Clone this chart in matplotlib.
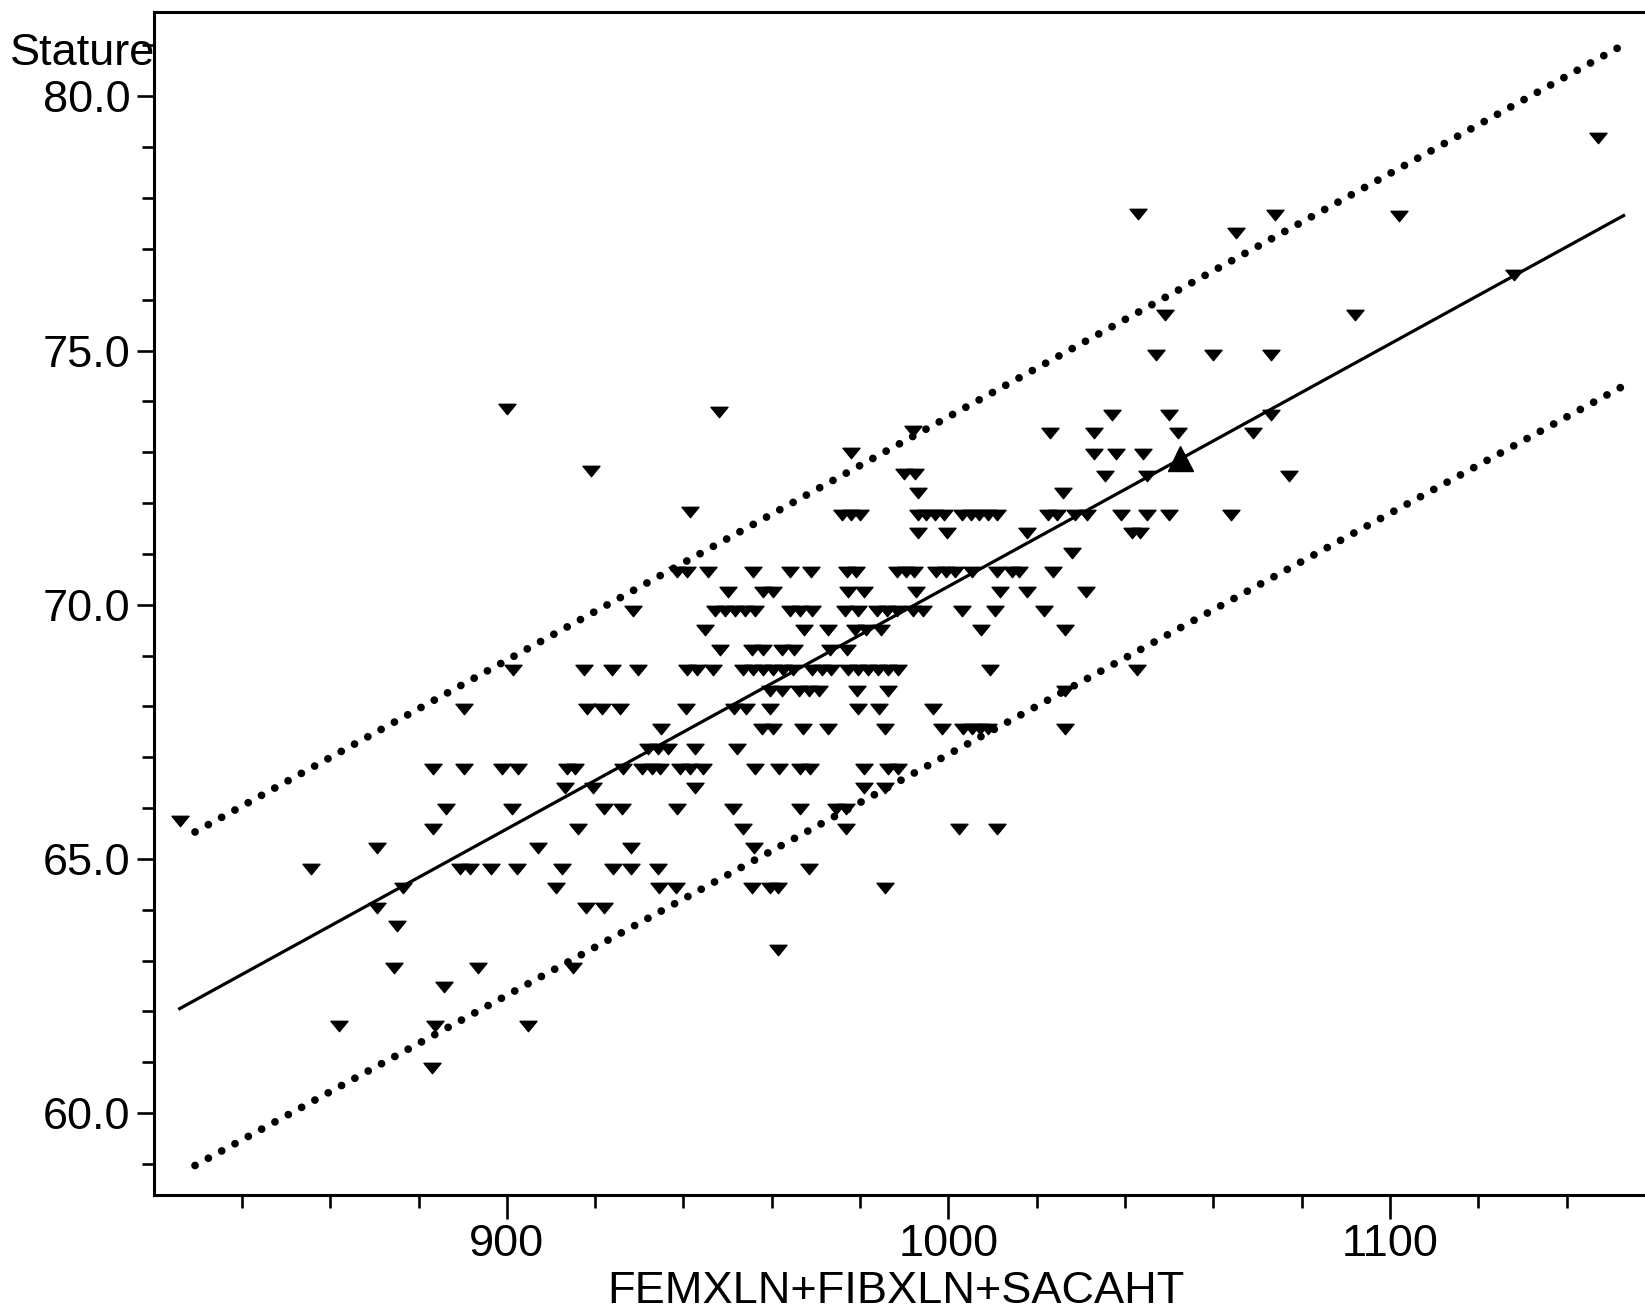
import matplotlib
matplotlib.use("Agg")
import matplotlib.pyplot as plt
from matplotlib.path import Path
from matplotlib.ticker import MultipleLocator, FormatStrFormatter, FixedLocator

plt.rcParams['font.family'] = ['Liberation Sans', 'DejaVu Sans']

# ---- data ----
# stature levels (inches) and the FEMXLN+FIBXLN+SACAHT values observed at each level
stature_levels = [79.19, 77.69, 77.67, 77.65, 77.31, 76.49, 75.70, 74.91, 73.85, 73.80,
                  73.74, 73.41, 73.38, 72.99, 72.97, 72.63, 72.57, 72.53, 72.20, 71.83,
                  71.77, 71.42, 71.01, 70.64, 70.26, 69.87, 69.50, 69.11, 68.71, 68.31,
                  67.95, 67.55, 67.16, 66.77, 66.40, 65.98, 65.74, 65.59, 65.22, 64.80,
                  64.43, 64.03, 63.68, 63.20, 62.85, 62.48, 61.71, 60.88]

sum_length_by_level = [
    [1147],
    [1043],
    [1074],
    [1102],
    [1065],
    [1128],
    [1049, 1092],
    [1047, 1060, 1073],
    [900],
    [948],
    [1037, 1050, 1073],
    [992],
    [1023, 1033, 1052, 1069],
    [978],
    [1033, 1038, 1044],
    [919],
    [990, 992.5],
    [1035.5, 1045, 1077],
    [993, 1026],
    [941.5],
    [976, 978, 980, 993, 995, 997, 999, 1003, 1005, 1007, 1009, 1011, 1022.6, 1024.6,
     1028.7, 1031.4, 1039, 1045, 1050, 1064],
    [993, 999.7, 1017.8, 1041.6, 1043.4],
    [1028],
    [938.6, 940.8, 945.6, 955.8, 964.2, 968.9, 977.1, 979.1, 988.4, 990.4, 992.2, 997.2,
     999.5, 1001.5, 1005.4, 1011, 1014.4, 1016, 1023.7],
    [950.1, 958, 960.3, 977.3, 980.9, 992.7, 1011.7, 1017.8, 1031.2],
    [928.6, 947.2, 949.4, 951.7, 954, 956.2, 964.2, 966.4, 969.1, 976.6, 979.6, 983.9,
     986.1, 988.4, 992, 994.3, 1003.1, 1010.6, 1021.7],
    [944.9, 967.3, 972.8, 978.9, 981.4, 984.8, 1007.4, 1026.4],
    [948.3, 955.6, 958, 962.3, 965.1, 973.2, 977.1],
    [901.4, 917.5, 923.8, 929.7, 940.8, 943.1, 946.7, 953.5, 955.8, 958, 960.3, 962.6,
     964.8, 969.1, 971.4, 973.4, 977.3, 979.6, 981.8, 984.1, 986.3, 988.6, 1009.4, 1042.7],
    [959.6, 962.3, 966.2, 968.5, 970.7, 979.3, 986.3, 1026.4],
    [890.3, 918.2, 921.6, 925.7, 940.6, 951.5, 954.2, 959.6, 979.6, 984.3, 996.5],
    [934.9, 957.8, 960.3, 967.1, 972.8, 985.7, 998.6, 1003.3, 1005.4, 1007.2, 1009, 1026.4],
    [932, 934.3, 936.5, 942.6, 952.2],
    [883.3, 890.3, 898.9, 902.6, 913.7, 915.5, 926.3, 930.6, 932.9, 934.7, 939.2, 941.5,
     944.5, 956.2, 961.7, 966.4, 968.7, 980.9, 986.3, 988.6],
    [913.2, 919.5, 942.6, 980.9, 985.7],
    [886.3, 901.2, 922, 926.1, 938.6, 951.2, 966.4, 974.6, 976.8],
    [825.9],
    [883.3, 916.2, 953.5, 976.8, 1002.4, 1011],
    [870.6, 907.1, 928.2, 956],
    [855.7, 889.4, 891.7, 896.5, 902.3, 912.5, 924.1, 928.2, 934.3, 968.5],
    [876.5, 911.2, 934.5, 938.3, 955.6, 959.6, 961.4, 985.7],
    [870.6, 918, 922],
    [875.2],
    [961.4],
    [874.5, 893.5, 915],
    [885.8],
    [862, 883.8, 904.8],
    [883.1],
]

# fitted line and prediction limits (end points)
fit_x = [825.6, 1153.2]
fit_y = [62.04, 77.67]
band_x = [829.4, 1153.2]
upper_y = [65.53, 81.03]
lower_y = [58.97, 74.32]

# highlighted point
mean_x = [1052.5]
mean_y = [72.89]

x_major = [900, 1000, 1100]
y_major = [60.0, 65.0, 70.0, 75.0, 80.0]

# ---- figure ----
fig = plt.figure(figsize=(16.45, 13.11), dpi=100)
ax = fig.add_axes([0.0936, 0.0885, 0.9058, 0.9024])

xs, ys = [], []
for lvl, vals in zip(stature_levels, sum_length_by_level):
    for v in vals:
        xs.append(v)
        ys.append(lvl)

tri = Path([(-0.85, 0.52), (0.85, 0.52), (0.0, -0.52), (-0.85, 0.52)],
           [Path.MOVETO, Path.LINETO, Path.LINETO, Path.CLOSEPOLY])

ax.plot(xs, ys, linestyle='none', marker=tri, markersize=12.2,
        markerfacecolor='black', markeredgecolor='black', markeredgewidth=1.0)

ax.plot(fit_x, fit_y, color='black', lw=2.3, solid_capstyle='butt')
for by in (upper_y, lower_y):
    ax.plot(band_x, by, color='black', lw=5.6, linestyle=(0, (0.001, 1.95)),
            dash_capstyle='round')

ax.plot(mean_x, mean_y, linestyle='none', marker='^', markersize=18,
        markerfacecolor='black', markeredgecolor='black')

ax.set_xlim(820.1, 1157.5)
ax.set_ylim(58.39, 81.66)

ax.xaxis.set_major_locator(FixedLocator(x_major))
ax.xaxis.set_minor_locator(MultipleLocator(20))
ax.yaxis.set_major_locator(FixedLocator(y_major))
ax.yaxis.set_minor_locator(MultipleLocator(1))
ax.yaxis.set_major_formatter(FormatStrFormatter('%.1f'))

for s in ('left', 'bottom', 'top'):
    ax.spines[s].set_linewidth(2.2)
ax.spines['right'].set_visible(False)

ax.tick_params(axis='both', which='both', direction='out', width=1.9, colors='black')
ax.tick_params(axis='x', which='major', length=17, labelsize=32.5, pad=4)
ax.tick_params(axis='x', which='minor', length=9)
ax.tick_params(axis='y', which='major', length=12, labelsize=32.5, pad=5)
ax.tick_params(axis='y', which='minor', length=9)
ax.tick_params(top=False, right=False, which='both')

ax.set_xlabel('FEMXLN+FIBXLN+SACAHT', fontsize=32.5)
ax.xaxis.set_label_coords(0.498, -0.0913)
ax.xaxis.label.set_va('baseline')

fig.text(155 / 1645, 1 - 65 / 1311, 'Stature', ha='right', va='baseline', fontsize=32.5)

fig.savefig('out.png', dpi=100, facecolor='white')
